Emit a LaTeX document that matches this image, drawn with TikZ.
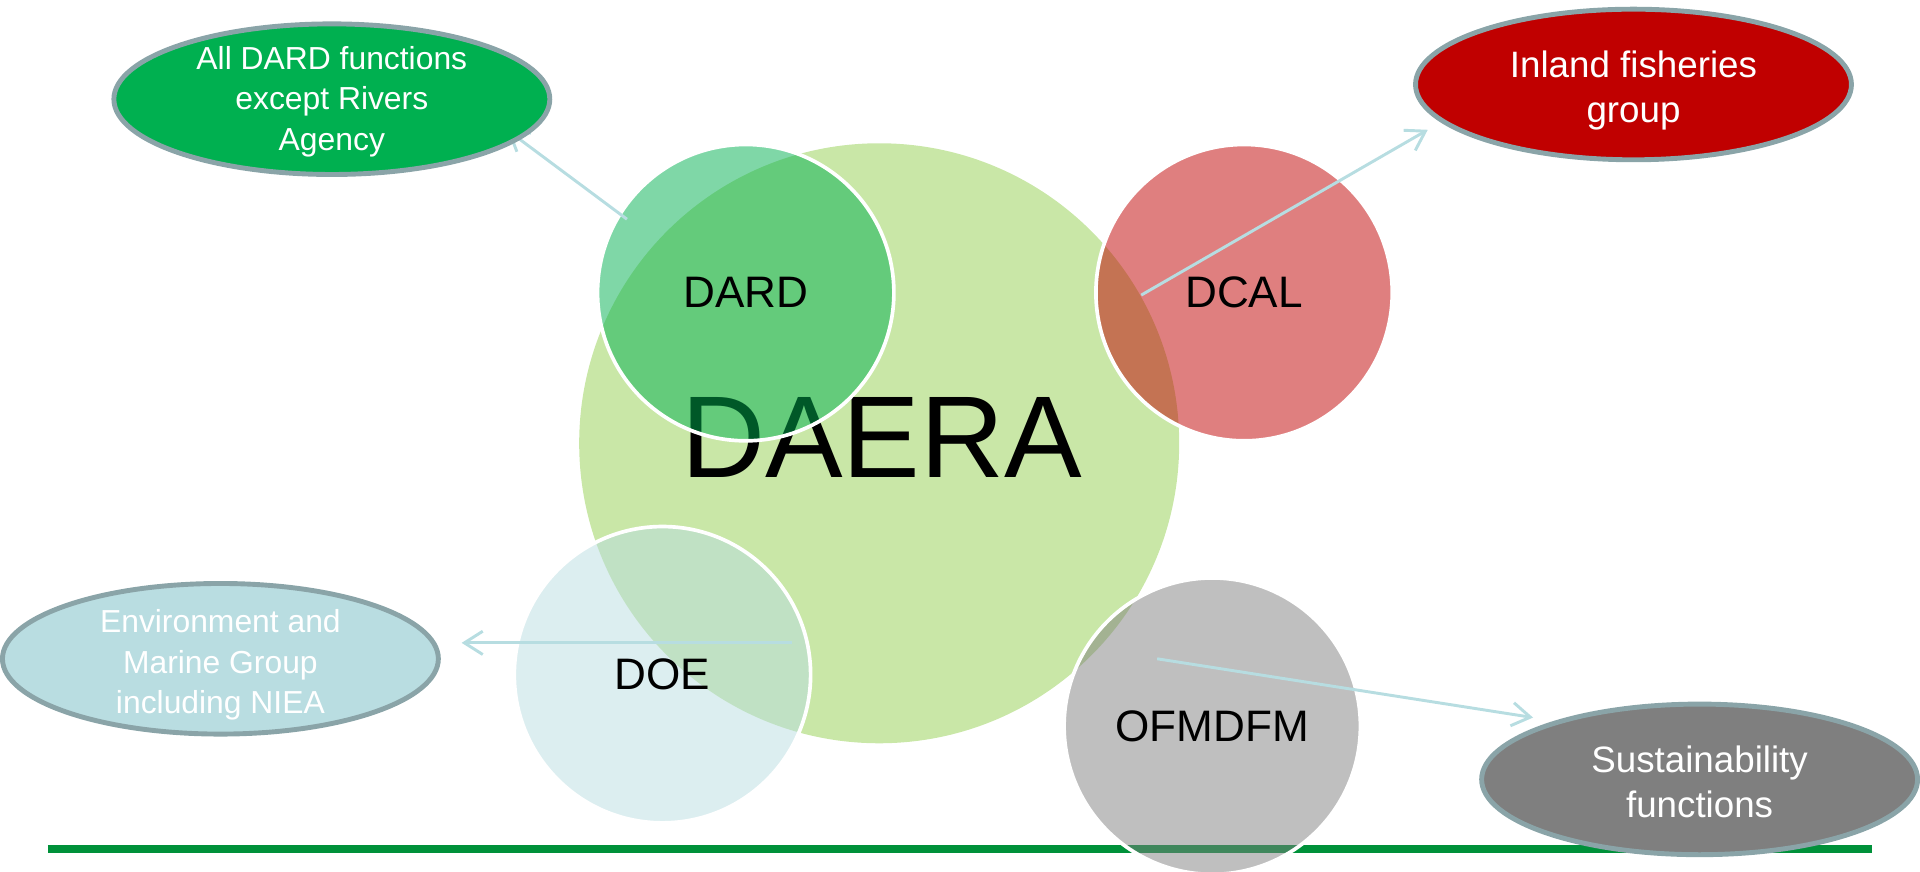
\documentclass[tikz,border=0pt]{standalone}
\usepackage{fontspec}
\setmainfont{Liberation Sans}
\usetikzlibrary{arrows.meta,shapes.geometric}
\definecolor{daerac}{RGB}{201,231,167}
\definecolor{dardc}{RGB}{0,176,80}
\definecolor{dcalc}{RGB}{192,0,0}
\definecolor{doec}{RGB}{185,221,225}
\definecolor{ofmc}{RGB}{127,127,127}
\definecolor{edgec}{RGB}{138,164,168}
\definecolor{connc}{RGB}{183,221,225}
\definecolor{lineg}{RGB}{0,145,58}
\begin{document}
\begin{tikzpicture}[x=0.5pt,y=-0.5pt,
  bigcirc/.style={circle, fill=daerac, minimum size=245pt, inner sep=0pt},
  bigtext/.style={inner sep=0pt, font=\fontsize{47.5}{50}\selectfont},
  deptcirc/.style={circle, draw=white, line width=1.5pt, minimum size=121pt, inner sep=0pt,
    fill opacity=0.5, draw opacity=1, text opacity=1, font=\fontsize{18}{20}\selectfont},
  callout/.style={ellipse, draw=edgec, line width=2pt, minimum width=178pt, minimum height=61.5pt,
    inner sep=0pt},
  callouttext/.style={inner sep=0pt, text=white, align=center},
  smalltxt/.style={font=\fontsize{13}{16.5}\selectfont},
  largetxt/.style={font=\fontsize{15}{18.5}\selectfont},
  conn/.style={draw=connc, line width=1.2pt, -{Straight Barb[length=7.5pt,width=9.5pt]}}
]
\useasboundingbox (0,0) rectangle (1568,712);
% bottom rule
\coordinate (rulel) at (39,693);
\coordinate (ruler) at (1529,693);
\draw[lineg, line width=3.3pt] (rulel) -- (ruler);
% main circle
\node[bigcirc] (daera) at (718,362) {};
\node[bigtext] (daeratext) at (720,357) {DAERA};
% department circles
\node[deptcirc, fill=dardc] (dard) at (609,239) {DARD};
\node[deptcirc, fill=dcalc] (dcal) at (1016,239) {DCAL};
\node[deptcirc, fill=doec] (doe) at (541,551) {DOE};
\node[deptcirc, fill=ofmc] (ofm) at (990,593) {OFMDFM};
% connector ends
\coordinate (s1) at (512,179);
\coordinate (t1) at (414,106);
\coordinate (s2) at (932,241);
\coordinate (t2) at (1166,106);
\coordinate (s3) at (647,525);
\coordinate (t3) at (377,525);
\coordinate (s4) at (945,538);
\coordinate (t4) at (1252,586);
\draw[conn] (s1) -- (t1);
\draw[conn] (s2) -- (t2);
\draw[conn] (s3) -- (t3);
\draw[conn] (s4) -- (t4);
% callouts
\node[callout, fill=dardc] (e1) at (271,81) {};
\node[callout, fill=dcalc] (e2) at (1334,69) {};
\node[callout, fill=doec] (e3) at (180,538) {};
\node[callout, fill=ofmc] (e4) at (1388,636.5) {};
\node[callouttext, smalltxt] (e1text) at (271,83) {All DARD functions\\except Rivers\\Agency};
\node[callouttext, largetxt] (e2text) at (1334,74) {Inland fisheries\\group};
\node[callouttext, smalltxt] (e3text) at (180,543) {Environment and\\Marine Group\\including NIEA};
\node[callouttext, largetxt] (e4text) at (1388,638.5) {Sustainability\\functions};
\end{tikzpicture}
\end{document}
